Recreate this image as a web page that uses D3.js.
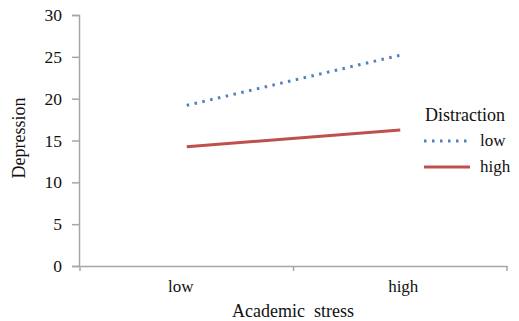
<!DOCTYPE html>
<html><head><meta charset="utf-8">
<script src="https://cdn.jsdelivr.net/npm/d3@7"></script>
<style>body{margin:0;background:#fff}svg{display:block}svg text{font-family:'Liberation Serif','Times New Roman',Tinos,serif !important}</style>
</head><body>
<svg id="c" width="519" height="321" style="font-family:'Liberation Serif',serif"></svg>
<script>
const categories = ["low", "high"];
const seriesNames = ["low", "high"];
const lowDistraction = [19.2, 25.2];
const highDistraction = [14.25, 16.25];
const yTicks = [0, 5, 10, 15, 20, 25, 30];
const colors = ["#4f81bd", "#c0504d"];

const FONT = "'Liberation Serif', 'Times New Roman', Tinos, serif";
const svg = d3.select("#c");
const x = d3.scaleBand().domain(categories).range([80, 507]);
const y = d3.scaleLinear().domain([0, 30]).range([266, 15]);
const axisColor = "#a6a6a6";

function styleText(sel, size) {
  sel.attr("font-family", FONT).style("font-family", FONT)
     .style("font-size", size + "px").attr("font-size", size).attr("fill", "#111");
}

// y axis
const ya = svg.append("g").attr("transform", `translate(79,0)`)
  .call(d3.axisLeft(y).tickValues(yTicks).tickSize(7).tickPadding(10));
ya.attr("font-family", null).attr("font-size", null);
ya.select(".domain").attr("stroke", axisColor).attr("stroke-width", 1.5);
ya.selectAll(".tick line").attr("stroke", axisColor).attr("stroke-width", 1.5);
styleText(ya.selectAll(".tick text"), 17.5);

// x axis
const xa = svg.append("g").attr("transform", `translate(0,266)`)
  .call(d3.axisBottom(x).tickSize(0).tickPadding(14));
xa.attr("font-family", null).attr("font-size", null);
xa.select(".domain").attr("stroke", axisColor).attr("stroke-width", 1.5);
styleText(xa.selectAll(".tick text"), 17);
xa.selectAll(".tick text").attr("dx", (d, i) => i === 0 ? -6 : 3);
const bounds = [x.range()[0], x(categories[1]), x.range()[1]];
svg.append("g").selectAll("line").data(bounds).join("line")
  .attr("x1", d => d).attr("x2", d => d).attr("y1", 266).attr("y2", 271)
  .attr("stroke", axisColor).attr("stroke-width", 1.5);

// titles
styleText(svg.append("text").attr("x", 293).attr("y", 317).attr("text-anchor", "middle")
  .style("white-space", "pre").text("Academic  stress"), 18);
styleText(svg.append("text").attr("transform", "translate(25,138) rotate(-90)").attr("text-anchor", "middle")
  .text("Depression"), 18);

// lines
const data = [lowDistraction, highDistraction];
const line = d3.line().x((d, i) => x(categories[i]) + x.bandwidth() / 2).y(d => y(d));
svg.append("g").selectAll("path").data(data).join("path")
  .attr("d", line).attr("fill", "none")
  .attr("stroke", (d, i) => colors[i])
  .attr("stroke-width", 3)
  .attr("stroke-dasharray", (d, i) => i === 0 ? "2.5,5.5" : null);

// legend
styleText(svg.append("text").attr("x", 425).attr("y", 121).text("Distraction"), 18);
const lg = svg.append("g").selectAll("g").data(seriesNames).join("g")
  .attr("transform", (d, i) => `translate(0,${141 + i * 26})`);
lg.append("line").attr("x1", 424).attr("x2", 470).attr("y1", 0).attr("y2", 0)
  .attr("stroke", (d, i) => colors[i]).attr("stroke-width", 3)
  .attr("stroke-dasharray", (d, i) => i === 0 ? "2.5,5.5" : null);
styleText(lg.append("text").attr("x", 480).attr("y", 5).text(d => d), 17);
</script>
</body></html>
